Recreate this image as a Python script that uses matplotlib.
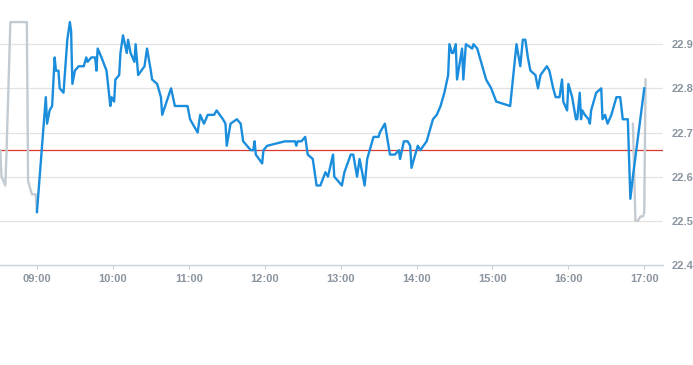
import matplotlib
matplotlib.use('Agg')
import matplotlib.pyplot as plt
import matplotlib.dates as mdates
import pandas as pd

# cotizacion intradia (sesion principal)
horas = ['09:00', '09:07', '09:08', '09:10', '09:12', '09:14', '09:15', '09:17', '09:18', '09:21',
         '09:24', '09:26', '09:27', '09:28', '09:30', '09:33', '09:37', '09:39', '09:40', '09:43',
         '09:46', '09:47', '09:48', '09:51', '09:55', '09:58', '09:59', '10:01', '10:02', '10:05',
         '10:06', '10:08', '10:11', '10:12', '10:14', '10:17', '10:18', '10:20', '10:25', '10:27',
         '10:30', '10:31', '10:35', '10:38', '10:39', '10:46', '10:49', '10:59', '11:01', '11:07',
         '11:09', '11:12', '11:15', '11:20', '11:22', '11:27', '11:29', '11:30', '11:33', '11:38',
         '11:41', '11:43', '11:46', '11:49', '11:51', '11:52', '11:53', '11:58', '11:59', '12:02',
         '12:16', '12:24', '12:25', '12:26', '12:29', '12:32', '12:34', '12:38', '12:41', '12:44',
         '12:48', '12:50', '12:54', '12:55', '13:01', '13:03', '13:08', '13:10', '13:13', '13:15',
         '13:19', '13:21', '13:26', '13:30', '13:31', '13:35', '13:39', '13:43', '13:46', '13:47',
         '13:50', '13:53', '13:55', '13:56', '14:01', '14:03', '14:08', '14:11', '14:13', '14:16',
         '14:19', '14:22', '14:25', '14:26', '14:28', '14:29', '14:31', '14:32', '14:36', '14:37',
         '14:39', '14:44', '14:45', '14:48', '14:51', '14:55', '14:59', '15:03', '15:14', '15:19',
         '15:22', '15:24', '15:26', '15:28', '15:30', '15:34', '15:36', '15:38', '15:43', '15:45',
         '15:48', '15:50', '15:53', '15:55', '15:56', '15:59', '16:00', '16:03', '16:06', '16:07',
         '16:09', '16:10', '16:11', '16:13', '16:16', '16:17', '16:18', '16:22', '16:26', '16:27',
         '16:29', '16:31', '16:34', '16:38', '16:41', '16:43', '16:46', '16:47', '16:49', '16:51',
         '17:00']
precios = [22.52, 22.78, 22.72, 22.75, 22.76, 22.87, 22.84, 22.84, 22.80, 22.79,
           22.91, 22.95, 22.93, 22.81, 22.84, 22.85, 22.85, 22.87, 22.86, 22.87,
           22.87, 22.84, 22.89, 22.87, 22.84, 22.76, 22.78, 22.77, 22.82, 22.83,
           22.88, 22.92, 22.88, 22.91, 22.88, 22.86, 22.90, 22.83, 22.85, 22.89,
           22.84, 22.82, 22.81, 22.78, 22.74, 22.80, 22.76, 22.76, 22.73, 22.70,
           22.74, 22.72, 22.74, 22.74, 22.75, 22.73, 22.72, 22.67, 22.72, 22.73,
           22.72, 22.68, 22.67, 22.66, 22.66, 22.68, 22.65, 22.63, 22.66, 22.67,
           22.68, 22.68, 22.67, 22.68, 22.68, 22.69, 22.65, 22.64, 22.58, 22.58,
           22.61, 22.60, 22.65, 22.60, 22.58, 22.61, 22.65, 22.65, 22.60, 22.64,
           22.58, 22.64, 22.69, 22.69, 22.70, 22.72, 22.65, 22.65, 22.66, 22.64,
           22.68, 22.68, 22.67, 22.62, 22.67, 22.66, 22.68, 22.71, 22.73, 22.74,
           22.76, 22.79, 22.83, 22.90, 22.88, 22.88, 22.90, 22.82, 22.89, 22.82,
           22.90, 22.89, 22.90, 22.89, 22.86, 22.82, 22.80, 22.77, 22.76, 22.90,
           22.85, 22.91, 22.91, 22.87, 22.84, 22.83, 22.80, 22.83, 22.85, 22.84,
           22.80, 22.78, 22.78, 22.82, 22.77, 22.75, 22.81, 22.78, 22.73, 22.73,
           22.79, 22.73, 22.75, 22.74, 22.73, 22.72, 22.75, 22.79, 22.80, 22.73,
           22.74, 22.72, 22.74, 22.78, 22.78, 22.73, 22.73, 22.73, 22.55, 22.60,
           22.80]

# fuera de horario (antes de la apertura y despues del cierre)
horas_pre = ['08:31', '08:32', '08:35', '08:36', '08:39', '08:52', '08:53', '08:56', '08:59', '09:00']
precios_pre = [22.66, 22.60, 22.58, 22.66, 22.95, 22.95, 22.59, 22.56, 22.56, 22.52]
horas_post = ['16:51', '16:53', '16:55', '16:57', '16:59', '17:00', '17:01']
precios_post = [22.72, 22.50, 22.50, 22.51, 22.51, 22.52, 22.82]

cierre_anterior = 22.66
marcas_y = [22.4, 22.5, 22.6, 22.7, 22.8, 22.9]


def a_fecha(lista):
    return pd.to_datetime(['2024-01-02 ' + h for h in lista])


fig = plt.figure(figsize=(6.93, 3.65), dpi=100)
ax = fig.add_axes([0, 1 - 265 / 365, 663 / 693, 265 / 365])

for y in marcas_y[1:]:
    ax.axhline(y, color='#e3e3e3', lw=0.9, zorder=0)
ax.axhline(cierre_anterior, color='#d8382f', lw=0.9, zorder=1)

ax.plot(a_fecha(horas_pre), precios_pre, color='#c3cbd2', lw=1.7, zorder=2)
ax.plot(a_fecha(horas_post), precios_post, color='#c3cbd2', lw=1.7, zorder=2)
ax.plot(a_fecha(horas), precios, color='#1a8ddd', lw=1.7, zorder=3)

ax.set_ylim(22.4, 23.0)
ax.set_xlim(pd.Timestamp('2024-01-02 08:30:48'), pd.Timestamp('2024-01-02 17:14:48'))

ax.xaxis.set_major_locator(mdates.HourLocator())
ax.xaxis.set_major_formatter(mdates.DateFormatter('%H:%M'))
ax.yaxis.tick_right()
ax.set_yticks(marcas_y)
ax.set_yticklabels(['%.1f' % v for v in marcas_y])

for s in ['top', 'left', 'right']:
    ax.spines[s].set_visible(False)
ax.spines['bottom'].set_color('#c9d1d9')
ax.spines['bottom'].set_linewidth(1)

ax.tick_params(axis='x', length=3, color='#c9d1d9', pad=3.5, labelsize=8, labelcolor='#8a949e')
ax.tick_params(axis='y', length=0, pad=6, labelsize=8, labelcolor='#8a949e')
for lab in ax.get_xticklabels() + ax.get_yticklabels():
    lab.set_fontweight('bold')
    lab.set_fontfamily('Liberation Sans')

plt.savefig('out.png', dpi=100)
